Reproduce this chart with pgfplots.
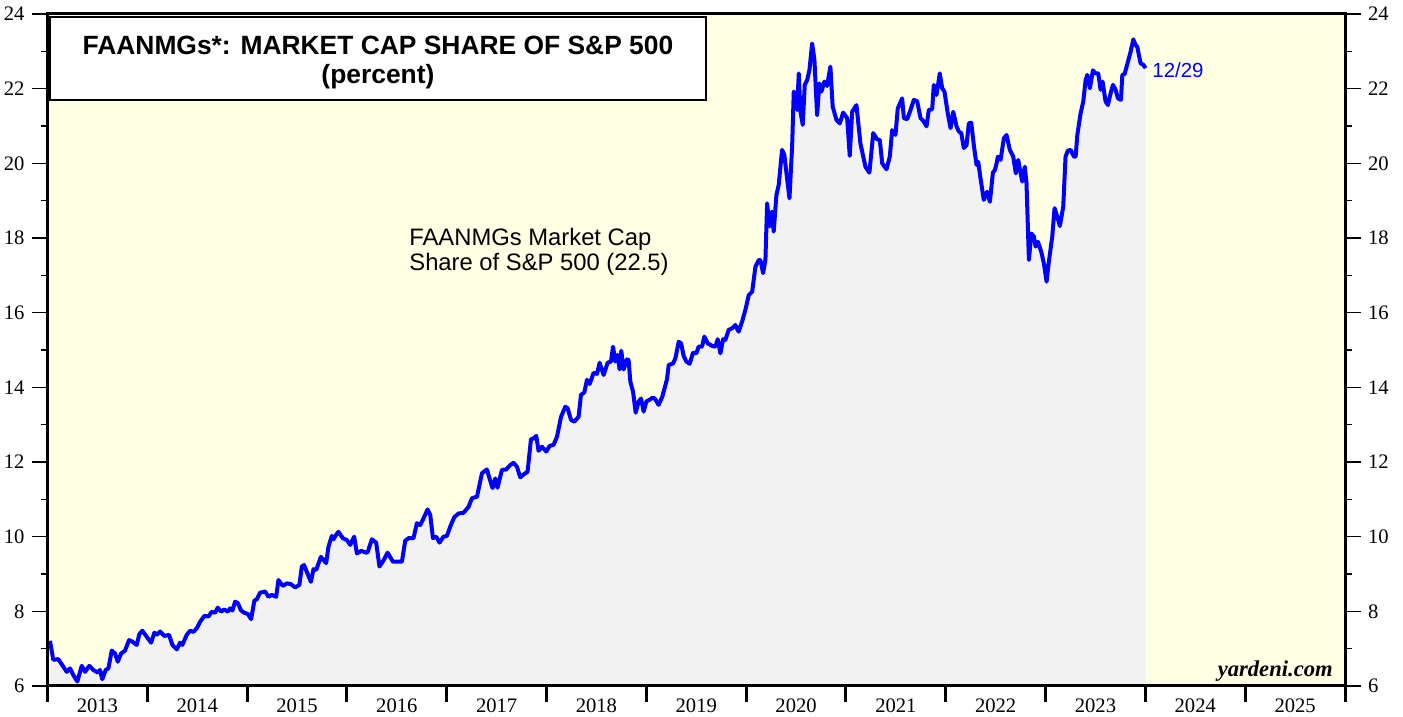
\documentclass[border=0pt]{standalone}
\usepackage{fontspec}
\setmainfont{Liberation Serif}
\newfontfamily\arial{Liberation Sans}
\usepackage{pgfplots}
\usepackage{pgfplotstable}
\pgfplotsset{compat=1.18}
\definecolor{bgyel}{RGB}{255,255,228}
\definecolor{fillgray}{RGB}{242,242,242}
\definecolor{lineblue}{RGB}{0,0,255}

\pgfplotstableread{
x y
2013.025 7.21
2013.058 6.70
2013.108 6.72
2013.158 6.52
2013.192 6.38
2013.226 6.47
2013.259 6.29
2013.299 6.12
2013.343 6.54
2013.376 6.38
2013.419 6.54
2013.459 6.43
2013.503 6.36
2013.526 6.43
2013.549 6.18
2013.583 6.43
2013.610 6.47
2013.644 6.95
2013.677 6.87
2013.704 6.65
2013.737 6.87
2013.777 6.95
2013.817 7.23
2013.850 7.19
2013.894 7.10
2013.920 7.39
2013.950 7.48
2013.994 7.32
2014.038 7.16
2014.071 7.43
2014.095 7.37
2014.128 7.46
2014.171 7.34
2014.218 7.37
2014.251 7.10
2014.295 6.98
2014.328 7.16
2014.351 7.10
2014.395 7.37
2014.429 7.48
2014.462 7.45
2014.496 7.55
2014.529 7.72
2014.572 7.88
2014.612 7.86
2014.646 7.99
2014.679 7.96
2014.706 8.10
2014.739 7.99
2014.772 8.05
2014.807 7.99
2014.830 8.08
2014.853 8.02
2014.880 8.26
2014.907 8.22
2014.940 8.02
2014.973 7.96
2015.007 7.93
2015.040 7.79
2015.073 8.29
2015.097 8.32
2015.130 8.50
2015.180 8.53
2015.214 8.39
2015.248 8.44
2015.291 8.39
2015.314 8.84
2015.358 8.68
2015.398 8.75
2015.438 8.73
2015.481 8.64
2015.524 8.71
2015.548 9.20
2015.571 9.24
2015.604 9.02
2015.639 8.79
2015.665 9.13
2015.692 9.11
2015.739 9.46
2015.792 9.29
2015.815 9.73
2015.849 10.02
2015.865 9.93
2015.892 10.05
2015.915 10.13
2015.959 9.96
2015.999 9.91
2016.033 9.78
2016.073 10.00
2016.100 9.55
2016.143 9.62
2016.183 9.58
2016.206 9.57
2016.250 9.93
2016.293 9.84
2016.326 9.20
2016.366 9.36
2016.407 9.57
2016.461 9.33
2016.507 9.33
2016.551 9.33
2016.584 9.89
2016.617 9.96
2016.667 9.96
2016.701 10.36
2016.734 10.31
2016.767 10.49
2016.808 10.73
2016.835 10.58
2016.862 9.96
2016.895 10.00
2016.928 9.84
2016.968 10.00
2017.002 10.02
2017.035 10.27
2017.075 10.52
2017.118 10.62
2017.168 10.64
2017.219 10.80
2017.253 11.03
2017.303 11.07
2017.353 11.70
2017.403 11.80
2017.429 11.56
2017.459 11.30
2017.486 11.56
2017.509 11.31
2017.553 11.79
2017.596 11.80
2017.637 11.92
2017.670 11.98
2017.704 11.87
2017.737 11.59
2017.777 11.68
2017.810 11.74
2017.844 12.61
2017.870 12.63
2017.897 12.70
2017.920 12.30
2017.954 12.41
2017.997 12.28
2018.031 12.43
2018.071 12.46
2018.105 12.68
2018.145 13.21
2018.188 13.48
2018.211 13.44
2018.245 13.13
2018.278 13.08
2018.321 13.21
2018.345 13.80
2018.378 13.86
2018.405 14.20
2018.432 14.09
2018.472 14.39
2018.506 14.36
2018.532 14.66
2018.572 14.33
2018.612 14.66
2018.646 14.69
2018.666 15.09
2018.689 14.69
2018.712 14.87
2018.732 14.48
2018.749 14.98
2018.772 14.48
2018.806 14.75
2018.822 14.73
2018.840 14.15
2018.867 13.88
2018.893 13.32
2018.923 13.62
2018.947 13.70
2018.973 13.35
2019.000 13.62
2019.040 13.68
2019.067 13.73
2019.090 13.68
2019.123 13.53
2019.160 13.75
2019.207 14.22
2019.224 14.60
2019.268 14.64
2019.291 14.78
2019.324 15.22
2019.348 15.18
2019.374 14.84
2019.401 14.69
2019.434 14.63
2019.468 14.93
2019.501 14.91
2019.524 15.09
2019.558 15.09
2019.581 15.36
2019.615 15.18
2019.659 15.11
2019.692 15.09
2019.715 15.29
2019.742 14.91
2019.769 15.29
2019.792 15.27
2019.825 15.54
2019.859 15.58
2019.892 15.67
2019.925 15.49
2019.959 15.76
2019.992 16.07
2020.026 16.47
2020.060 16.56
2020.093 17.23
2020.126 17.41
2020.143 17.41
2020.170 17.06
2020.193 17.41
2020.210 18.93
2020.236 18.31
2020.260 18.71
2020.276 18.17
2020.303 19.15
2020.326 19.42
2020.360 20.36
2020.383 20.22
2020.410 19.60
2020.434 19.06
2020.461 20.49
2020.477 21.92
2020.497 21.83
2020.511 21.43
2020.527 22.41
2020.544 21.38
2020.567 21.03
2020.587 22.10
2020.611 22.23
2020.634 22.50
2020.661 23.21
2020.684 22.77
2020.711 21.29
2020.734 22.14
2020.754 21.92
2020.784 22.19
2020.811 22.07
2020.844 22.59
2020.867 21.52
2020.905 21.16
2020.938 21.07
2020.972 21.36
2021.012 21.21
2021.038 20.20
2021.062 21.38
2021.105 21.56
2021.145 20.53
2021.195 19.91
2021.235 19.75
2021.273 20.81
2021.313 20.64
2021.339 20.63
2021.363 20.00
2021.406 19.84
2021.439 20.18
2021.463 20.89
2021.496 20.76
2021.519 21.47
2021.563 21.74
2021.580 21.21
2021.613 21.18
2021.647 21.43
2021.680 21.70
2021.714 21.66
2021.747 21.21
2021.780 21.12
2021.807 20.99
2021.830 21.43
2021.864 21.45
2021.880 22.10
2021.907 21.83
2021.940 22.41
2021.964 22.01
2021.987 21.92
2022.020 21.34
2022.048 20.94
2022.075 21.38
2022.108 20.99
2022.131 20.85
2022.155 20.81
2022.181 20.41
2022.208 20.49
2022.231 21.07
2022.255 21.09
2022.281 20.49
2022.308 19.96
2022.325 20.04
2022.348 19.60
2022.381 19.02
2022.415 19.24
2022.442 18.97
2022.472 19.75
2022.492 19.82
2022.509 20.00
2022.522 20.18
2022.549 20.09
2022.582 20.67
2022.609 20.76
2022.642 20.36
2022.676 20.18
2022.702 19.73
2022.726 20.09
2022.766 19.51
2022.792 19.91
2022.809 19.46
2022.833 17.41
2022.857 18.12
2022.883 18.04
2022.900 17.77
2022.923 17.90
2022.957 17.63
2022.983 17.32
2023.010 16.83
2023.033 17.37
2023.067 18.04
2023.090 18.80
2023.117 18.57
2023.143 18.32
2023.177 18.84
2023.200 20.18
2023.223 20.34
2023.251 20.36
2023.284 20.18
2023.301 20.18
2023.318 20.76
2023.351 21.34
2023.378 21.66
2023.401 22.23
2023.418 22.37
2023.444 22.01
2023.474 22.49
2023.501 22.41
2023.528 22.41
2023.551 21.97
2023.571 22.19
2023.601 21.66
2023.624 21.56
2023.652 21.88
2023.675 22.10
2023.702 21.97
2023.725 21.74
2023.755 21.70
2023.769 22.37
2023.792 22.39
2023.825 22.72
2023.852 22.99
2023.879 23.32
2023.902 23.17
2023.919 23.12
2023.935 22.90
2023.952 22.68
2023.979 22.64
2024.002 22.55
}\faang

\begin{document}
\begin{tikzpicture}
\begin{axis}[
  scale only axis, width=648.75pt, height=336pt,
  xmin=2013, xmax=2026, ymin=6, ymax=24,
  axis background/.style={fill=bgyel},
  axis line style={line width=1.5pt},
  axis on top,
  clip=false,
  tick align=outside,
  major tick length=8pt, minor tick length=3.5pt,
  xtick={2013,2014,2015,2016,2017,2018,2019,2020,2021,2022,2023,2024,2025,2026},
  xticklabels={2013,2014,2015,2016,2017,2018,2019,2020,2021,2022,2023,2024,2025,{}},
  x tick label style={xshift=24.95pt, yshift=5pt, font=\fontsize{10.3}{12}\selectfont},
  xtick pos=bottom,
  x tick style={line width=1.5pt, black},
  ytick={6,8,...,24},
  minor y tick num=1,
  ytick pos=both,
  y tick style={line width=0.8pt, black},
  y tick label style={font=\fontsize{10.3}{12}\selectfont},
  /pgf/number format/assume math mode=true,
]
\coordinate (SW) at (rel axis cs:0,0);
\coordinate (NE) at (rel axis cs:1,1);
\addplot[draw=none, fill=fillgray] table[x=x,y=y]{\faang} \closedcycle;
\addplot[lineblue, line width=2pt, line join=round] table[x=x,y=y]{\faang};
\draw[line width=1pt, fill=white] (rel axis cs:0.0019,0.872) rectangle (rel axis cs:0.5075,0.9955);
\node[font=\arial\bfseries\fontsize{13.2}{14.5}\selectfont, align=center, inner sep=0pt] at (rel axis cs:0.2547,0.9275) {FAANMGs*: MARKET CAP SHARE OF S\&P 500\\(percent)};
\node[font=\arial\fontsize{11.9}{12.5}\selectfont, align=left, anchor=west, inner sep=0pt] at (rel axis cs:0.2786,0.6465) {FAANMGs Market Cap\\Share of S\&P 500 (22.5)};
\node[font=\arial\fontsize{10.2}{12}\selectfont, text=lineblue, anchor=west, inner sep=0pt] at (rel axis cs:0.8513,0.9167) {12/29};
\node[font=\bfseries\itshape\fontsize{11.3}{13}\selectfont, anchor=base east, inner sep=0pt] at (rel axis cs:0.9908,0.0134) {yardeni.com};
\end{axis}
\begin{axis}[
  scale only axis, width=648.75pt, height=336pt,
  xmin=2013, xmax=2026, ymin=6, ymax=24,
  hide x axis,
  axis y line*=right,
  axis line style={line width=1.5pt},
  tick align=outside,
  major tick length=8pt, minor tick length=3.5pt,
  ytick={6,8,...,24},
  minor y tick num=1,
  y tick style={line width=0.8pt, black},
  y tick label style={font=\fontsize{10.3}{12}\selectfont},
  /pgf/number format/assume math mode=true,
]
\end{axis}
\pgfresetboundingbox
\path[use as bounding box] ([shift={(-23.75pt,-15.5pt)}]SW) rectangle ([shift={(29pt,7pt)}]NE);
\end{tikzpicture}
\end{document}
